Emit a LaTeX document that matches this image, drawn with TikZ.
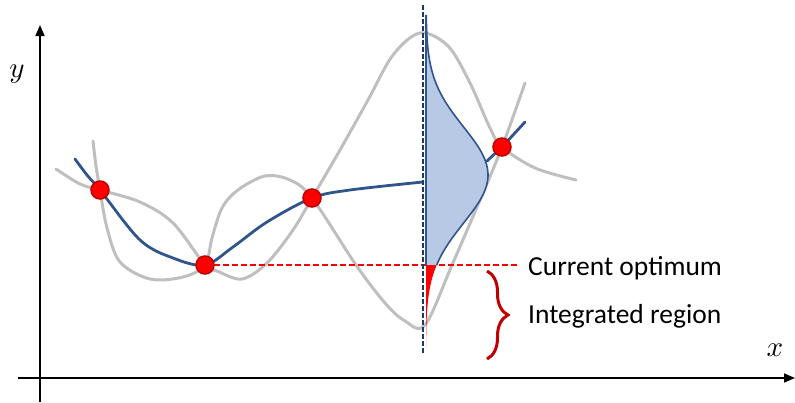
\documentclass[tikz,border=0pt]{standalone}
\usepackage{fontspec}
\newfontfamily\labelfont{Carlito}
\usetikzlibrary{arrows.meta,decorations.pathreplacing}
\definecolor{meanblue}{RGB}{47,85,140}
\definecolor{pdfblue}{RGB}{183,201,228}
\definecolor{sampgray}{RGB}{191,191,191}
\definecolor{obsred}{RGB}{255,0,0}
\definecolor{obsedge}{RGB}{192,0,0}
\definecolor{cutblue}{RGB}{31,56,100}
\tikzset{
  sample/.style={draw=sampgray, line width=3pt, line cap=round},
  mean/.style={draw=meanblue, line width=2.8pt, line cap=round},
  obs/.style={circle, fill=obsred, draw=obsedge, line width=1.5pt, minimum size=18pt, inner sep=0pt},
  axis/.style={-{Triangle[length=11pt,width=9pt]}, line width=1.6pt},
  optline/.style={draw=obsred, line width=1.8pt, dash pattern=on 6pt off 3pt},
  cutline/.style={draw=cutblue, line width=2pt, dash pattern=on 5pt off 2pt},
  region/.style={draw=obsedge, line width=3pt, decorate, decoration={brace, amplitude=21pt}},
  label/.style={font=\labelfont\fontsize{27.5}{33}\selectfont, anchor=base west, inner sep=0pt},
  axlabel/.style={scale=2.9, inner sep=0pt}
}

\begin{document}
\begin{tikzpicture}[x=1pt, y=-1pt]
  \useasboundingbox (0,0) rectangle (795,402);
  % observations
  \coordinate (p1) at (100,190);
  \coordinate (p2) at (205,265);
  \coordinate (p3) at (312,198);
  \coordinate (p4) at (502,147);
  % axes
  \coordinate (yfoot) at (40,402);
  \coordinate (ytip) at (40,25);
  \coordinate (xfoot) at (18,378);
  \coordinate (xtip) at (795,378);
  \draw[axis] (yfoot) -- (ytip);
  \draw[axis] (xfoot) -- (xtip);
  \node[axlabel] (ylab) at (17,74) {$y$};
  \node[axlabel] (xlab) at (775,350) {$x$};
  % sample paths
  \draw[sample] plot[smooth, tension=0.55] coordinates {(56,169) (80,184) (p1) (140,202) (173,223) (p2)
    (217,271) (242,279) (267,263) (293,230) (p3) (340,150) (368,100) (393,55) (420,33) (448,46) (470,83)
    (490,128) (p4) (535,168) (576,180)};
  \draw[sample] plot[smooth, tension=0.55] coordinates {(93,141) (96,166) (p1) (107,228) (120,262) (150,279) (183,277) (p2)
    (212,238) (222,208) (238,190) (265,176) (290,180) (p3) (356,265) (385,303) (405,321) (425,325)
    (452,265) (480,200) (p4) (525,83)};
  % posterior mean
  \draw[mean] plot[smooth, tension=0.55] coordinates {(75,159) (87,175) (p1) (140,240) (173,258) (p2)
    (233,247) (267,222) (p3) (350,190) (423,182)};
  \coordinate (rstart) at (487,161);
  \coordinate (rend) at (525,122);
  \draw[mean] (rstart) -- (p4) -- (rend);
  % current optimum
  \coordinate (optend) at (517,265);
  \draw[optline] (p2) -- (optend);
  % predictive density at the cut
  \fill[pdfblue] (426,15) -- plot[variable=\t, domain=15:265, samples=90] ({426+62*exp(-0.5*((\t-175)/48)^2)}, {\t}) -- (426,265) -- cycle;
  \draw[meanblue, line width=1.6pt] plot[variable=\t, domain=15:265, samples=90] ({426+62*exp(-0.5*((\t-175)/48)^2)}, {\t});
  \fill[obsred] (426,265) -- plot[variable=\t, domain=265:347, samples=40] ({426+62*exp(-0.5*((\t-175)/48)^2)}, {\t}) -- (426,347) -- cycle;
  \draw[meanblue, line width=2pt] (426,15) -- (426,265);
  \coordinate (cuttop) at (423,5);
  \coordinate (cutbot) at (423,353);
  \draw[cutline] (cuttop) -- (cutbot);
  % observed points
  \foreach \p in {1,...,4}
    \node[obs] (o\p) at (p\p) {};
  % integrated region
  \coordinate (bracetop) at (487,271);
  \coordinate (bracebot) at (487,359);
  \draw[region] (bracetop) -- (bracebot);
  \node[label] (optlab) at (528,275) {Current optimum};
  \node[label] (reglab) at (528,323) {Integrated region};
\end{tikzpicture}
\end{document}
